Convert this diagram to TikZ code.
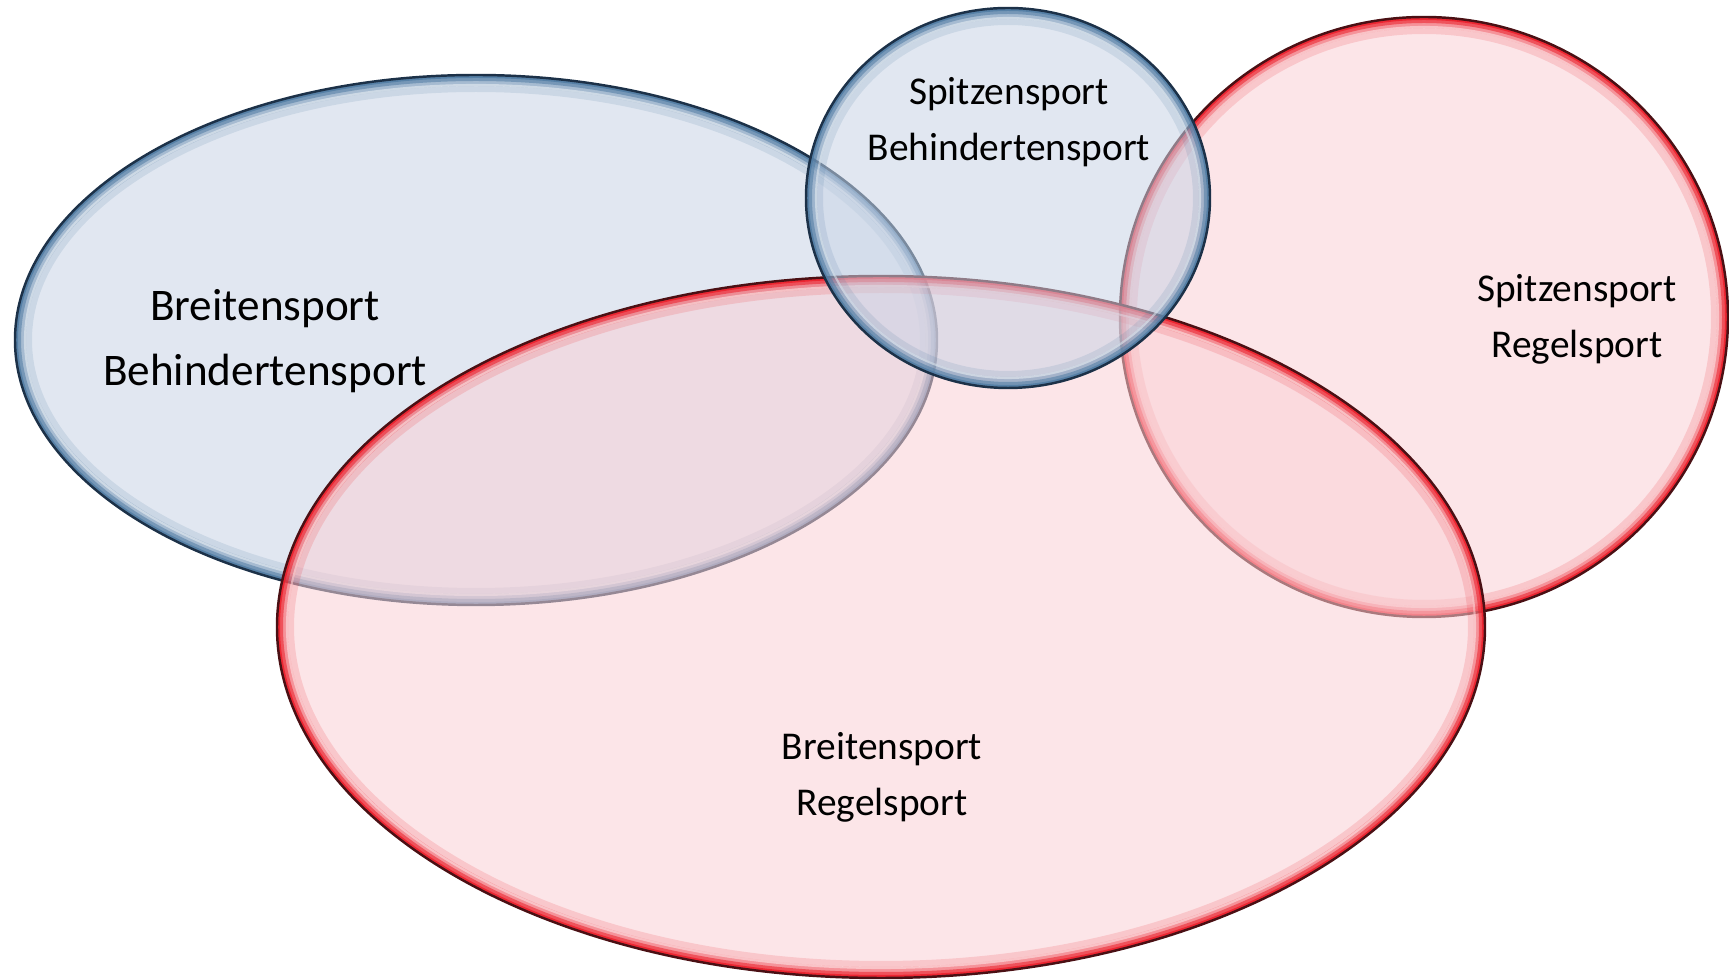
\documentclass[tikz,border=0pt]{standalone}
\usepackage{fontspec}
\setmainfont{Carlito}

\definecolor{bubbleblue}{HTML}{C9D4E6}
\definecolor{edgeblue}{HTML}{4F7BA3}
\definecolor{lineblue}{HTML}{1C3148}
\definecolor{bubblered}{HTML}{FAD0D5}
\definecolor{edgered}{HTML}{EC1C28}
\definecolor{linered}{HTML}{4A1014}

\tikzset{
  label/.style={align=center, font=\fontsize{11.2}{16}\selectfont},
  biglabel/.style={align=center, font=\fontsize{12.85}{18.7}\selectfont}
}

% #1 centre, #2 x radius, #3 y radius, #4 fill, #5 edge, #6 outline
\newcommand\bubble[6]{%
  \fill[#4, fill opacity=0.55] #1 ellipse [x radius=#2, y radius=#3];
  \begin{scope}
    \clip #1 ellipse [x radius=#2, y radius=#3];
    \draw[#5, line width=0.34cm, opacity=0.15] #1 ellipse [x radius=#2, y radius=#3];
    \draw[#5, line width=0.22cm, opacity=0.3] #1 ellipse [x radius=#2, y radius=#3];
    \draw[#5, line width=0.12cm, opacity=0.55] #1 ellipse [x radius=#2, y radius=#3];
    \draw[#5, line width=0.06cm, opacity=0.8] #1 ellipse [x radius=#2, y radius=#3];
    \draw[white, line width=0.6pt, opacity=0.45] #1 ellipse [x radius=#2-10, y radius=#3-10];
  \end{scope}
  \draw[#6, line width=0.7pt] #1 ellipse [x radius=#2, y radius=#3];
}

\begin{document}
\begin{tikzpicture}[x=0.01cm, y=-0.01cm]
  \useasboundingbox (0,0) rectangle (1729,980);

  \bubble{(476,340)}{461}{265}{bubbleblue}{edgeblue}{lineblue}
  \bubble{(1424,317)}{304}{300}{bubblered}{edgered}{linered}
  \bubble{(881,627)}{604}{351}{bubblered}{edgered}{linered}
  \bubble{(1008,198)}{202}{190}{bubbleblue}{edgeblue}{lineblue}

  \node[biglabel] (breitbeh) at (265,341) {Breitensport\\Behindertensport};
  \node[label] (spitzbeh) at (1009,122) {Spitzensport\\Behindertensport};
  \node[label] (spitzreg) at (1577,319) {Spitzensport\\Regelsport};
  \node[label] (breitreg) at (882,777) {Breitensport\\Regelsport};
\end{tikzpicture}
\end{document}
